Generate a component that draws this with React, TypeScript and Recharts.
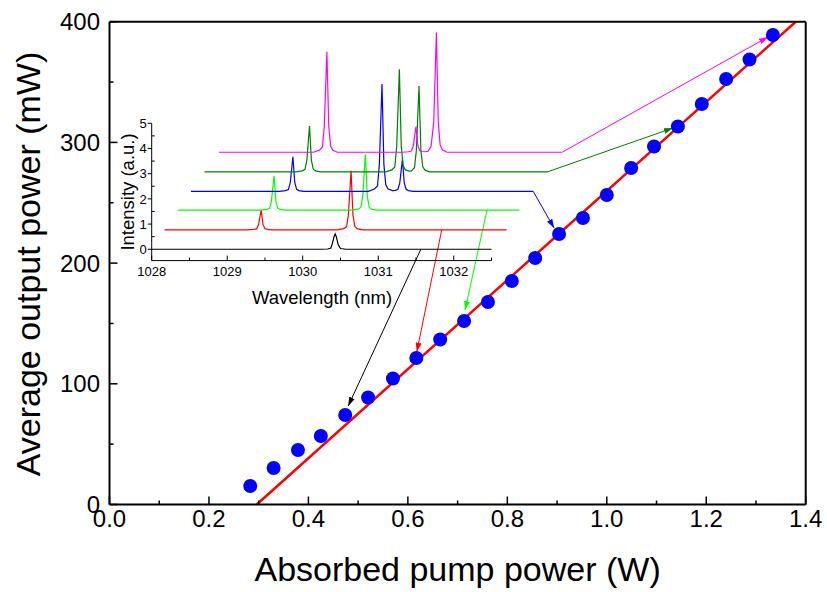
import React from "react";
import { ComposedChart, Line, Scatter, XAxis, YAxis, ReferenceLine } from "recharts";

// main plot: absorbed pump power (W) vs average output power (mW)
const pumpPower = [
  0.283, 0.33, 0.379, 0.425, 0.474, 0.52, 0.57, 0.617, 0.665, 0.713, 0.761, 0.809,
  0.856, 0.904, 0.952, 1.0, 1.049, 1.095, 1.143, 1.191, 1.24, 1.287, 1.334,
];
const outputPower = [
  15.3, 30.2, 45.2, 56.8, 74.1, 88.6, 104.4, 121.4, 136.7, 152.0, 167.8, 185.2,
  204.2, 224.1, 237.4, 256.4, 278.8, 296.6, 313.2, 331.8, 352.5, 368.7, 389.0,
];
const fitPump = [0.296, 1.38];
const fitOutput = [0, 400];

const xTicks = [0, 0.1, 0.2, 0.3, 0.4, 0.5, 0.6, 0.7, 0.8, 0.9, 1.0, 1.1, 1.2, 1.3, 1.4];
const yTicks = [0, 50, 100, 150, 200, 250, 300, 350, 400];

// inset: spectra, [wavelength nm, intensity a.u.], stacked
const waveTicks = [1028, 1028.5, 1029, 1029.5, 1030, 1030.5, 1031, 1031.5, 1032, 1032.5];
const intensityTicks = [0, 0.5, 1, 1.5, 2, 2.5, 3, 3.5, 4, 4.5, 5];

const specBlack: [number, number][] = [
  [1028, 0], [1030.25, 0], [1030.33, 0.01], [1030.37, 0.04], [1030.39, 0.2],
  [1030.415, 0.5], [1030.43, 0.61], [1030.445, 0.5], [1030.47, 0.18], [1030.5, 0.03],
  [1030.57, 0], [1032.5, 0],
];
const specRed: [number, number][] = [
  [1028.17, 0.77], [1029.27, 0.77], [1029.35, 0.79], [1029.39, 0.81], [1029.415, 0.97],
  [1029.45, 1.56], [1029.475, 0.97], [1029.5, 0.82], [1029.53, 0.79], [1029.59, 0.77],
  [1030.46, 0.77], [1030.54, 0.82], [1030.58, 0.89], [1030.605, 1.36], [1030.64, 3.12],
  [1030.665, 1.36], [1030.69, 0.91], [1030.72, 0.82], [1030.78, 0.77], [1032.7, 0.77],
];
const specGreen: [number, number][] = [
  [1028.35, 1.55], [1029.44, 1.55], [1029.52, 1.58], [1029.56, 1.62], [1029.585, 1.89],
  [1029.62, 2.92], [1029.645, 1.89], [1029.67, 1.63], [1029.7, 1.58], [1029.76, 1.55],
  [1030.65, 1.55], [1030.73, 1.59], [1030.77, 1.66], [1030.795, 2.11], [1030.83, 3.77],
  [1030.855, 2.11], [1030.88, 1.68], [1030.91, 1.59], [1030.97, 1.55], [1032.87, 1.55],
];
const specBlue: [number, number][] = [
  [1028.52, 2.3], [1029.69, 2.3], [1029.77, 2.33], [1029.81, 2.37], [1029.835, 2.64],
  [1029.87, 3.67], [1029.895, 2.64], [1029.92, 2.38], [1029.95, 2.33], [1030.01, 2.3],
  [1030.87, 2.3], [1030.95, 2.39], [1030.99, 2.51], [1031.015, 3.37], [1031.05, 6.56],
  [1031.075, 3.37], [1031.1, 2.56], [1031.13, 2.39], [1031.19, 2.33], [1031.23, 2.34],
  [1031.26, 2.38], [1031.285, 2.62], [1031.32, 3.57], [1031.345, 2.62], [1031.37, 2.38],
  [1031.4, 2.33], [1031.46, 2.3], [1033.05, 2.3],
];
const specDarkGreen: [number, number][] = [
  [1028.7, 3.07], [1029.91, 3.07], [1029.99, 3.11], [1030.03, 3.17], [1030.055, 3.53],
  [1030.09, 4.89], [1030.115, 3.53], [1030.14, 3.18], [1030.17, 3.11], [1030.23, 3.07],
  [1031.1, 3.07], [1031.18, 3.15], [1031.22, 3.27], [1031.245, 4.09], [1031.28, 7.14],
  [1031.305, 4.09], [1031.33, 3.31], [1031.36, 3.15], [1031.41, 3.1], [1031.44, 3.11],
  [1031.48, 3.24], [1031.505, 3.92], [1031.54, 6.48], [1031.565, 3.92], [1031.59, 3.27],
  [1031.62, 3.14], [1031.68, 3.07], [1033.24, 3.07],
];
const specMagenta: [number, number][] = [
  [1028.89, 3.85], [1030.14, 3.85], [1030.22, 3.93], [1030.26, 4.05], [1030.285, 4.85],
  [1030.32, 7.84], [1030.345, 4.85], [1030.37, 4.09], [1030.4, 3.93], [1030.46, 3.85],
  [1031.32, 3.85], [1031.4, 3.87], [1031.44, 3.9], [1031.465, 4.11], [1031.5, 4.87],
  [1031.525, 4.11], [1031.55, 3.91], [1031.58, 3.88], [1031.62, 3.87], [1031.66, 3.89],
  [1031.7, 4.09], [1031.735, 5.04], [1031.77, 8.6], [1031.795, 5.04], [1031.82, 4.14],
  [1031.85, 3.95], [1031.91, 3.85], [1033.43, 3.85],
];

// arrows from each spectrum to its data point, in main-plot units [W, mW]
const arrowBlack: [number, number][] = [[0.626, 211.4], [0.48, 81.6]];
const arrowRed: [number, number][] = [[0.668, 227.4], [0.618, 126.6]];
const arrowGreen: [number, number][] = [[0.759, 243.7], [0.715, 161.1]];
const arrowBlue: [number, number][] = [[0.852, 259.5], [0.894, 229.1]];
const arrowDarkGreen: [number, number][] = [[0.88, 275.5], [1.133, 311.9]];
const arrowMagenta: [number, number][] = [[0.91, 291.8], [1.324, 387.3]];

const FONT = "'Liberation Sans', Arial, sans-serif";
const W = 827;
const H = 592;

const points = pumpPower.map((x, i) => ({ x, y: outputPower[i] }));
const fit = fitPump.map((x, i) => ({ x, y: fitOutput[i] }));
const toXY = (a: [number, number][]) => a.map(([x, y]) => ({ x, y }));
const toWV = (a: [number, number][]) => a.map(([w, v]) => ({ w, v }));

const spectra = [
  { key: "black", color: "#000000", data: specBlack },
  { key: "red", color: "#ff0000", data: specRed },
  { key: "green", color: "#00ff00", data: specGreen },
  { key: "blue", color: "#0000ff", data: specBlue },
  { key: "dkgreen", color: "#008000", data: specDarkGreen },
  { key: "magenta", color: "#ff00ff", data: specMagenta },
];
const arrows = [
  { key: "black", color: "#000000", data: arrowBlack },
  { key: "red", color: "#ff0000", data: arrowRed },
  { key: "green", color: "#00ff00", data: arrowGreen },
  { key: "blue", color: "#0000ff", data: arrowBlue },
  { key: "dkgreen", color: "#008000", data: arrowDarkGreen },
  { key: "magenta", color: "#ff00ff", data: arrowMagenta },
];

const isMajor = (v: number, step: number) => Math.abs(v / step - Math.round(v / step)) < 1e-6;

function BottomTick(props: any) {
  const { x, y, payload } = props;
  const major = isMajor(payload.value, 0.2);
  return (
    <g>
      <line x1={x} x2={x} y1={y} y2={y - (major ? 8 : 4)} stroke="#000" strokeWidth={1.5} />
      {major && (
        <text x={x} y={y + 22.5} textAnchor="middle" fontSize={24} fontFamily={FONT} fill="#000">
          {payload.value.toFixed(1)}
        </text>
      )}
    </g>
  );
}
function TopTick(props: any) {
  const { x, y, payload } = props;
  const major = isMajor(payload.value, 0.2);
  return <line x1={x} x2={x} y1={y} y2={y + (major ? 8 : 4)} stroke="#000" strokeWidth={1.5} />;
}
function LeftTick(props: any) {
  const { x, y, payload } = props;
  const major = isMajor(payload.value, 100);
  return (
    <g>
      <line x1={x} x2={x + (major ? 8 : 4)} y1={y} y2={y} stroke="#000" strokeWidth={1.5} />
      {major && (
        <text x={x - 9.5} y={y} dy="0.36em" textAnchor="end" fontSize={24} fontFamily={FONT} fill="#000">
          {payload.value}
        </text>
      )}
    </g>
  );
}
function RightTick(props: any) {
  const { x, y, payload } = props;
  const major = isMajor(payload.value, 100);
  return <line x1={x} x2={x - (major ? 8 : 4)} y1={y} y2={y} stroke="#000" strokeWidth={1.5} />;
}
function InsetXTick(props: any) {
  const { x, y, payload } = props;
  const major = isMajor(payload.value, 1);
  return (
    <g>
      <line x1={x} x2={x} y1={y} y2={y - (major ? 5 : 3)} stroke="#000" strokeWidth={1} />
      {major && (
        <text x={x} y={y + 15.5} textAnchor="middle" fontSize={13} fontFamily={FONT} fill="#000">
          {payload.value}
        </text>
      )}
    </g>
  );
}
function InsetYTick(props: any) {
  const { x, y, payload } = props;
  const major = isMajor(payload.value, 1);
  return major ? (
    <g>
      <line x1={x - 4} x2={x} y1={y} y2={y} stroke="#000" strokeWidth={1} />
      <text x={x - 5} y={y} dy="0.36em" textAnchor="end" fontSize={13} fontFamily={FONT} fill="#000">
        {payload.value}
      </text>
    </g>
  ) : (
    <line x1={x} x2={x + 3} y1={y} y2={y} stroke="#000" strokeWidth={1} />
  );
}

const Dot = (p: any) => <circle cx={p.cx} cy={p.cy} r={7} fill="#0000ff" />;

export default function App() {
  return (
    <div style={{ position: "fixed", left: 0, top: 0, width: W, height: H, background: "#fff" }}>
      <div style={{ position: "absolute", left: 0, top: 0 }}>
        <ComposedChart width={W} height={H} margin={{ left: 108.5, right: 20.3, top: 20.7, bottom: 86.5 }}>
          <defs>
            {arrows.map((a) => (
              <marker
                key={a.key}
                id={`ah-${a.key}`}
                markerWidth={9}
                markerHeight={6}
                refX={9}
                refY={3}
                orient="auto"
                markerUnits="userSpaceOnUse"
              >
                <path d="M0,0 L9,3 L0,6 Z" fill={a.color} />
              </marker>
            ))}
          </defs>
          <XAxis
            xAxisId="b"
            dataKey="x"
            type="number"
            domain={[0, 1.4]}
            ticks={xTicks}
            interval={0}
            height={1}
            tickSize={0}
            tickMargin={0}
            tick={<BottomTick />}
            axisLine={{ stroke: "#000", strokeWidth: 2 }}
            tickLine={false}
          />
          <XAxis
            xAxisId="t"
            orientation="top"
            type="number"
            domain={[0, 1.4]}
            ticks={xTicks}
            interval={0}
            height={1}
            tickSize={0}
            tickMargin={0}
            tick={<TopTick />}
            axisLine={{ stroke: "#000", strokeWidth: 2 }}
            tickLine={false}
          />
          <YAxis
            yAxisId="l"
            dataKey="y"
            type="number"
            domain={[0, 400]}
            ticks={yTicks}
            interval={0}
            width={1}
            tickSize={0}
            tickMargin={0}
            tick={<LeftTick />}
            axisLine={{ stroke: "#000", strokeWidth: 2 }}
            tickLine={false}
          />
          <YAxis
            yAxisId="r"
            orientation="right"
            type="number"
            domain={[0, 400]}
            ticks={yTicks}
            interval={0}
            width={1}
            tickSize={0}
            tickMargin={0}
            tick={<RightTick />}
            axisLine={{ stroke: "#000", strokeWidth: 2 }}
            tickLine={false}
          />
          <Scatter xAxisId="b" yAxisId="l" data={points} dataKey="y" shape={Dot} isAnimationActive={false} />
          <Line
            xAxisId="b"
            yAxisId="l"
            data={fit}
            dataKey="y"
            type="linear"
            stroke="#ff0000"
            strokeWidth={2.5}
            dot={false}
            activeDot={false}
            isAnimationActive={false}
          />
          {arrows.map((a) => (
            <Line
              key={a.key}
              xAxisId="b"
              yAxisId="l"
              data={toXY(a.data)}
              dataKey="y"
              type="linear"
              stroke={a.color}
              strokeWidth={1}
              dot={false}
              activeDot={false}
              markerEnd={`url(#ah-${a.key})`}
              isAnimationActive={false}
            />
          ))}
          <text
            x={40}
            y={264}
            transform="rotate(-90 40 264)"
            textAnchor="middle"
            fontSize={34}
            fontFamily={FONT}
            fill="#000"
          >
            Average output power (mW)
          </text>
          <text x={457.6} y={581} textAnchor="middle" fontSize={34} fontFamily={FONT} fill="#000">
            Absorbed pump power (W)
          </text>
        </ComposedChart>
      </div>
      <div style={{ position: "absolute", left: 0, top: 0, pointerEvents: "none" }}>
        <ComposedChart width={W} height={H} margin={{ left: 150.7, right: 260, top: 22.5, bottom: 330.4 }}>
          <XAxis
            dataKey="w"
            type="number"
            domain={[1028, 1033.5]}
            ticks={waveTicks}
            interval={0}
            height={1}
            tickSize={0}
            tickMargin={0}
            tick={<InsetXTick />}
            axisLine={false}
            tickLine={false}
          />
          <YAxis
            dataKey="v"
            type="number"
            domain={[-0.45, 9]}
            ticks={intensityTicks}
            interval={0}
            width={1}
            tickSize={0}
            tickMargin={0}
            tick={<InsetYTick />}
            axisLine={false}
            tickLine={false}
          />
          <ReferenceLine
            segment={[{ x: 1028, y: -0.45 }, { x: 1032.5, y: -0.45 }]}
            stroke="#000"
            strokeWidth={1}
            ifOverflow="visible"
          />
          <ReferenceLine
            segment={[{ x: 1028, y: -0.45 }, { x: 1028, y: 5 }]}
            stroke="#000"
            strokeWidth={1}
            ifOverflow="visible"
          />
          {spectra.map((s) => (
            <Line
              key={s.key}
              data={toWV(s.data)}
              dataKey="v"
              type="linear"
              stroke={s.color}
              strokeWidth={1.2}
              dot={false}
              activeDot={false}
              isAnimationActive={false}
            />
          ))}
          <text x={322} y={304} textAnchor="middle" fontSize={18.5} fontFamily={FONT} fill="#000">
            Wavelength (nm)
          </text>
          <text
            x={134}
            y={192}
            transform="rotate(-90 134 192)"
            textAnchor="middle"
            fontSize={18.5}
            fontFamily={FONT}
            fill="#000"
          >
            Intensity (a.u.)
          </text>
        </ComposedChart>
      </div>
    </div>
  );
}
